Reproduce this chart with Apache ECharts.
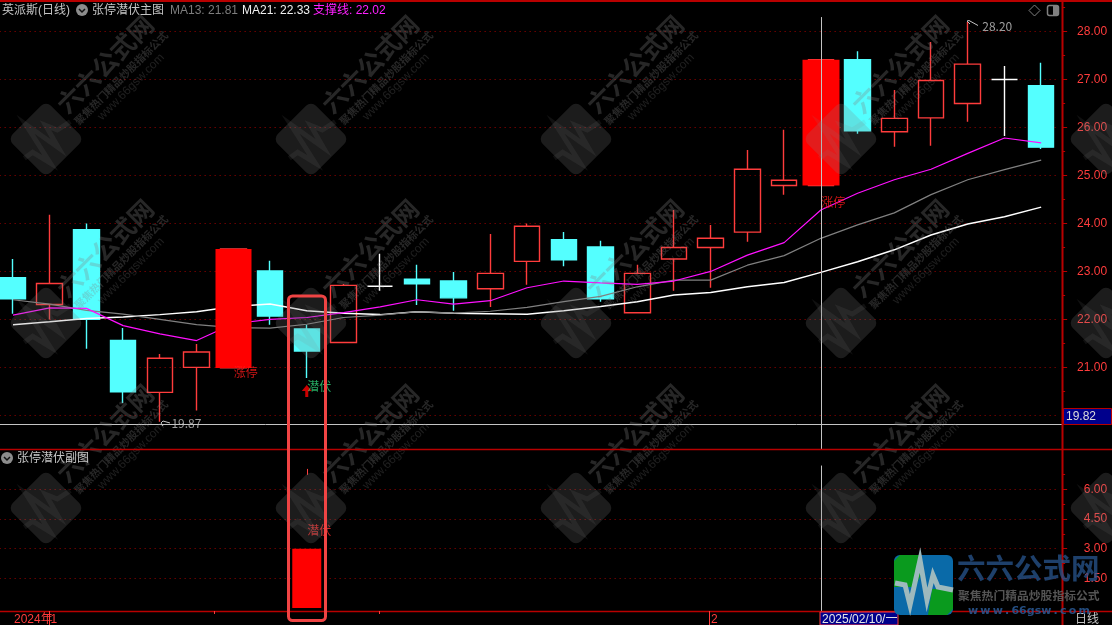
<!DOCTYPE html>
<html><head><meta charset="utf-8">
<style>html,body{margin:0;padding:0;background:#000;overflow:hidden}#c{width:1112px;height:625px}</style>
<script src="https://cdn.jsdelivr.net/npm/echarts@6/dist/echarts.min.js"></script>
</head><body><div id="c"></div>
<script>
const categories = ['d0','d1','d2','d3','d4','d5','d6','d7','d8','d9','d10','d11','d12','d13','d14','d15','d16','d17','d18','d19','d20','d21','2025/02/10/一','d23','d24','d25','d26','d27','d28'];
const opens  = [22.87,22.31,23.87,21.56,20.48,21.00,20.99,23.01,21.80,21.52,22.69,22.84,22.80,22.64,23.21,23.66,23.51,22.14,23.26,23.50,23.82,24.79,24.79,27.41,25.91,26.20,26.50,27.00,26.87];
const closes = [22.43,22.75,22.00,20.49,21.19,21.32,23.47,22.07,21.34,22.71,22.69,22.74,22.45,22.96,23.94,23.24,22.43,22.96,23.50,23.69,25.13,24.90,27.41,25.93,26.19,26.98,27.32,27.00,25.59];
const lows   = [22.12,22.00,21.39,20.26,19.87,20.10,20.99,21.89,20.78,21.52,22.60,22.30,22.18,22.26,22.72,23.11,22.37,22.14,22.60,22.66,23.62,24.60,24.79,25.87,25.60,25.62,26.12,25.82,25.55];
const highs  = [23.26,24.18,24.00,21.82,21.28,21.49,23.47,23.22,21.89,22.74,23.37,23.14,22.99,23.78,24.00,23.82,23.64,23.14,24.28,23.97,25.53,25.95,27.41,27.59,26.78,27.78,28.20,27.28,27.35];
const ma13   = [22.41,22.32,22.19,22.11,22.00,21.89,21.83,21.82,21.90,22.04,22.09,22.16,22.13,22.17,22.25,22.37,22.48,22.68,22.82,22.82,23.13,23.33,23.69,23.97,24.22,24.60,24.91,25.12,25.32];
const ma21   = [21.89,21.95,22.02,22.05,22.10,22.16,22.27,22.32,22.18,22.13,22.10,22.16,22.13,22.12,22.11,22.18,22.27,22.37,22.51,22.56,22.68,22.77,22.98,23.20,23.45,23.76,23.99,24.14,24.34];
const support= [22.09,22.24,22.23,21.87,21.70,21.56,21.91,22.00,22.04,22.14,22.26,22.41,22.32,22.39,22.66,22.80,22.76,22.73,22.80,23.00,23.34,23.60,24.28,24.63,24.91,25.13,25.46,25.78,25.68];
const limitUpIdx = [6,22];
const subBars = [null,null,null,null,null,null,null,null,3,null,null,null,null,null,null,null,null,null,null,null,null,null,null,null,null,null,null,null,null];
const subTick = [[8,6.73],[8,7.03]];
const mainTicks = [20,21,22,23,24,25,26,27,28];
const mainLabels = [21,22,23,24,25,26,27,28];
const mainMinor = [20.5,21.5,22.5,23.5,24.5,25.5,26.5,27.5,28.5];
const subTicks = [1.5,3,4.5,6];
const subMinor = [2.25,3.75,5.25,6.75];
const lastPrice = 19.82, crossIdx = 22;
const legendMA13 = '21.81', legendMA21 = '22.33', legendSupport = '22.02';
const limitUpLabels = [[6,20.885],[22,24.43]];
const hideLabel = [[8,20.6]];
const arrowPts = [[8,20.51]];
const subHideLabel = [[8,3.94]];
const wmX = [46,311,576,841,1106], wmY = [139,323,508];

const RED='#ff3c3c', CYAN='#54ffff', FRAME='#b80000', GRID='#a00000', GREY='#c4c4c4';
const FONT='"Liberation Sans","Noto Sans CJK SC",sans-serif';
const CJK='"Noto Sans CJK SC",sans-serif';
const ohlc = categories.map((_,i)=>[opens[i],closes[i],lows[i],highs[i]]);
const wide = categories.map((_,i)=>limitUpIdx.includes(i)?[opens[i],closes[i],opens[i],closes[i]]:['-','-','-','-']);
const fmt2=v=>Number(v).toFixed(2);

function txt(x,y,text,fill,size,extra){return {type:'text',z:60,silent:true,x,y,style:Object.assign({text,fill,font:(size||12)+'px '+FONT,textVerticalAlign:'middle'},extra||{})};}
function ln(x1,y1,x2,y2,stroke,w,z){return {type:'line',z:z||50,silent:true,shape:{x1,y1,x2,y2},style:{stroke,lineWidth:w||1}};}

const G=[];
const WMC='rgba(128,128,128,0.22)', WMT='rgba(128,128,128,0.3)';
wmY.forEach(cy=>wmX.forEach(cx=>{
  G.push({type:'group',x:cx,y:cy,z:40,silent:true,children:[
    {type:'rect',z:40,shape:{x:-27,y:-27,width:54,height:54,r:7},rotation:Math.PI/4,style:{fill:WMC}},
    {type:'polyline',z:40,shape:{points:[[-21.7,19.3],[-13.3,13.3],[4.2,24],[-20.5,-14.8],[12.5,8.7],[-0.5,-13.7],[11.3,-9],[24.3,-17.3]]},style:{stroke:'rgba(128,128,128,0.12)',lineWidth:5,fill:null}},
    {type:'text',z:40,x:59,y:-75,rotation:Math.PI/4,style:{text:'六六公式网',fill:WMT,font:'bold 25px '+CJK,textAlign:'center',textVerticalAlign:'middle'}},
    {type:'text',z:40,x:75,y:-61,rotation:Math.PI/4,style:{text:'聚焦热门精品炒股指标公式',fill:WMT,font:'bold 10.6px '+CJK,textAlign:'center',textVerticalAlign:'middle'}},
    {type:'text',z:40,x:85,y:-52,rotation:Math.PI/4,style:{text:'www.66gsw.com',fill:'rgba(128,128,128,0.24)',font:'12px '+FONT,textAlign:'center',textVerticalAlign:'middle'}}
  ]});
}));
G.push(ln(0,1,1112,1,FRAME,2), ln(0,449.5,1112,449.5,FRAME,1.5), ln(0,611.5,1112,611.5,FRAME,1.5), ln(1062.5,0,1062.5,625,FRAME,2));
G.push(ln(49.5,611,49.5,625,RED,1), ln(214.5,611,214.5,614,RED,1), ln(379.5,611,379.5,614,RED,1), ln(709.5,611,709.5,625,RED,1));
G.push(txt(14,620,'2024年',RED,12), txt(50.5,620,'1',RED,12), txt(711,620,'2',RED,12));
G.push({type:'rect',z:55,silent:true,shape:{x:820,y:612,width:78,height:13},style:{fill:'#00008c',stroke:RED,lineWidth:1}});
G.push(txt(822,620,categories[crossIdx],'#e6e6e6',12));
G.push(txt(1075,620,'日线',GREY,12));
G.push({type:'rect',z:55,silent:true,shape:{x:1063.5,y:408.5,width:48,height:16},style:{fill:'#00008c',stroke:FRAME,lineWidth:1}});
G.push(txt(1066,417,fmt2(lastPrice),'#dcdcdc',12));
G.push(txt(2,11,'英派斯(日线)',GREY,12));
G.push({type:'circle',z:60,silent:true,shape:{cx:82,cy:10,r:6},style:{fill:'#8c8c8c'}});
G.push({type:'polyline',z:61,silent:true,shape:{points:[[79,9],[82,12],[85,9]]},style:{stroke:'#111',lineWidth:1.5,fill:null}});
G.push(txt(92,11,'张停潜伏主图',GREY,12));
G.push(txt(170,11,'MA13: '+legendMA13,'#7d7d7d',12));
G.push(txt(242,11,'MA21: '+legendMA21,'#f0f0f0',12));
G.push(txt(313,11,'支撑线: '+legendSupport,'#ff20ff',12));
G.push(txt(17,459,'张停潜伏副图',GREY,12));
G.push({type:'circle',z:60,silent:true,shape:{cx:7,cy:458,r:6},style:{fill:'#8c8c8c'}});
G.push({type:'polyline',z:61,silent:true,shape:{points:[[4,457],[7,460],[10,457]]},style:{stroke:'#111',lineWidth:1.5,fill:null}});
G.push({type:'polygon',z:60,silent:true,shape:{points:[[1034.5,5],[1040,10.5],[1034.5,16],[1029,10.5]]},style:{fill:null,stroke:'#808080',lineWidth:1}});
G.push({type:'rect',z:60,silent:true,shape:{x:1047.5,y:5.5,width:11,height:10,r:2},style:{fill:'#000',stroke:'#808080',lineWidth:1.5}});
G.push({type:'rect',z:60,silent:true,shape:{x:1053,y:6,width:5,height:9},style:{fill:'#808080'}});
G.push({type:'polyline',z:60,silent:true,shape:{points:[[970,24],[967,21],[969,20.5],[978,25.5]]},style:{stroke:GREY,lineWidth:1,fill:null}});
G.push({type:'polyline',z:60,silent:true,shape:{points:[[163,426],[161,423],[163,421],[170,423]]},style:{stroke:GREY,lineWidth:1,fill:null}});
G.push({type:'rect',z:70,silent:true,shape:{x:288.5,y:296,width:37,height:324.5,r:4},style:{fill:null,stroke:'#f04444',lineWidth:3}});
G.push({type:'group',z:80,silent:true,children:[
 {type:'rect',z:80,shape:{x:894,y:555,width:59,height:60,r:6},style:{fill:'#0a6aa8'}},
 {type:'polygon',z:80,shape:{points:[[900,555],[921,555],[921,575],[915,587],[894,587],[894,561]]},style:{fill:'#0a9a1e'}},
 {type:'polygon',z:80,shape:{points:[[932,589],[953,589],[953,609],[947,615],[928,615]]},style:{fill:'#0a9a1e'}},
 {type:'polyline',z:81,shape:{points:[[895,583],[905,585],[910,605],[920,560],[927,600],[933,575],[938,587],[953,590]]},style:{stroke:'#9db9bd',lineWidth:5,fill:null}},
 {type:'text',z:82,x:957,y:568,style:{text:'六六公式网',fill:'rgba(40,85,143,0.75)',font:'bold 28.5px '+CJK,textVerticalAlign:'middle'}},
 {type:'text',z:82,x:958,y:596,style:{text:'聚焦热门精品炒股指标公式',fill:'rgba(100,100,100,0.85)',font:'bold 11.8px '+CJK,textVerticalAlign:'middle'}},
 {type:'text',z:82,x:968,y:611,style:{text:'w\u2009w\u2009w\u2009.\u200966gsw\u2009.\u2009c\u2009o\u2009m',fill:'rgba(40,85,143,0.9)',font:'bold 11px "DejaVu Sans",sans-serif',textVerticalAlign:'middle'}}
]});

function textSeries(data,color,label,xi,yi,z,off){
  return {type:'scatter',xAxisIndex:xi,yAxisIndex:yi,z:z||6,silent:true,symbolSize:1,itemStyle:{color:'transparent'},data,
    label:{show:true,position:'right',distance:0,offset:off||[0,0],formatter:label,color,fontSize:12,fontFamily:CJK}};
}
const option={
 animation:false,backgroundColor:'#000',
 grid:[{outerBoundsMode:'none',left:-5.36,width:1064.9,top:1,height:448},{outerBoundsMode:'none',left:-5.36,width:1064.9,top:449,height:162}],
 xAxis:[0,1].map(i=>({type:'category',gridIndex:i,data:categories,boundaryGap:true,axisLine:{show:false},axisTick:{show:false},axisLabel:{show:false},splitLine:{show:false}})),
 yAxis:[
  {type:'value',gridIndex:0,position:'right',offset:2.6,min:19.3,max:28.635,scale:true,axisLine:{show:false},
   axisTick:{show:true,length:5,lineStyle:{color:FRAME},customValues:mainTicks},
   axisLabel:{color:RED,fontSize:12,fontFamily:FONT,align:'right',margin:45,formatter:fmt2,customValues:mainLabels},
   splitLine:{show:true,lineStyle:{color:GRID,type:[1,4],width:1}}},
  {type:'value',gridIndex:0,position:'right',offset:2.6,min:19.3,max:28.635,scale:true,axisLine:{show:false},
   axisTick:{show:true,length:3,lineStyle:{color:FRAME},customValues:mainMinor},axisLabel:{show:false},splitLine:{show:false}},
  {type:'value',gridIndex:1,position:'right',offset:2.6,min:-0.153,max:8.037,scale:true,axisLine:{show:false},
   axisTick:{show:true,length:5,lineStyle:{color:FRAME},customValues:subTicks},
   axisLabel:{color:RED,fontSize:12,fontFamily:FONT,align:'right',margin:45,formatter:fmt2,customValues:subTicks},
   splitLine:{show:true,lineStyle:{color:GRID,type:[1,4],width:1}}},
  {type:'value',gridIndex:1,position:'right',offset:2.6,min:-0.153,max:8.037,scale:true,axisLine:{show:false},
   axisTick:{show:true,length:3,lineStyle:{color:FRAME},customValues:subMinor},axisLabel:{show:false},splitLine:{show:false}}
 ],
 graphic:{elements:G},
 series:[
  {type:'candlestick',name:'K',xAxisIndex:0,yAxisIndex:0,z:2,silent:true,barWidth:26,data:ohlc,
   itemStyle:{color:'transparent',color0:CYAN,borderColor:RED,borderColor0:CYAN,borderColorDoji:'#ffffff',borderWidth:1.4}},
  {type:'line',name:'MA21',xAxisIndex:0,yAxisIndex:0,z:3,silent:true,showSymbol:false,data:ma21,lineStyle:{color:'#ffffff',width:1.5}},
  {type:'line',name:'MA13',xAxisIndex:0,yAxisIndex:0,z:3,silent:true,showSymbol:false,data:ma13,lineStyle:{color:'#808080',width:1.2}},
  {type:'line',name:'支撑线',xAxisIndex:0,yAxisIndex:0,z:3,silent:true,showSymbol:false,data:support,lineStyle:{color:'#ff10ff',width:1.2}},
  {type:'candlestick',name:'涨停',xAxisIndex:0,yAxisIndex:0,z:4,silent:true,barWidth:37,data:wide,
   itemStyle:{color:'#ff0000',color0:'#ff0000',borderColor:'#ff0000',borderColor0:'#ff0000',borderWidth:0}},
  {type:'scatter',xAxisIndex:0,yAxisIndex:0,z:5,silent:true,symbolSize:1,itemStyle:{color:'transparent'},data:[[crossIdx,lastPrice]],
   markLine:{silent:true,symbol:'none',label:{show:false},animation:false,data:[
     [{coord:[crossIdx,28.3]},{coord:[crossIdx,19.3]}],
     [{yAxis:lastPrice,x:0},{yAxis:lastPrice,x:1062}]
   ],lineStyle:{color:GREY,width:1,type:'solid'}}},
  textSeries(limitUpLabels,'#ff1a1a','涨停',0,0,6),
  textSeries(hideLabel,'#2ed47a','潜伏',0,0,6),
  {type:'scatter',xAxisIndex:0,yAxisIndex:0,z:6,silent:true,symbol:'path://M5 0 L10 6 L6.5 6 L6.5 12 L3.5 12 L3.5 6 L0 6 Z',symbolSize:[10,12],itemStyle:{color:'#ff0000'},data:arrowPts},
  textSeries([[26,28.2]],GREY,p=>fmt2(p.value[1]),0,0,6,[14,5]),
  textSeries([[4,19.87]],GREY,p=>fmt2(p.value[1]),0,0,6,[11,1.5]),
  {type:'bar',xAxisIndex:1,yAxisIndex:2,z:2,silent:true,barWidth:29,data:subBars,itemStyle:{color:'#ff0000'},
   markLine:{silent:true,symbol:'none',label:{show:false},animation:false,lineStyle:{color:RED,width:1,type:'solid'},data:[[{coord:subTick[0]},{coord:subTick[1]}]]}},
  {type:'scatter',xAxisIndex:1,yAxisIndex:2,z:3,silent:true,symbolSize:1,itemStyle:{color:'transparent'},data:[[crossIdx,0]],
   markLine:{silent:true,symbol:'none',label:{show:false},animation:false,lineStyle:{color:GREY,width:1,type:'solid'},data:[[{coord:[crossIdx,7.2]},{coord:[crossIdx,-0.153]}]]}},
  textSeries(subHideLabel,'#ff2a2a','潜伏',1,2,6)
 ]
};
echarts.init(document.getElementById('c'),null,{renderer:'canvas'}).setOption(option);
</script></body></html>
